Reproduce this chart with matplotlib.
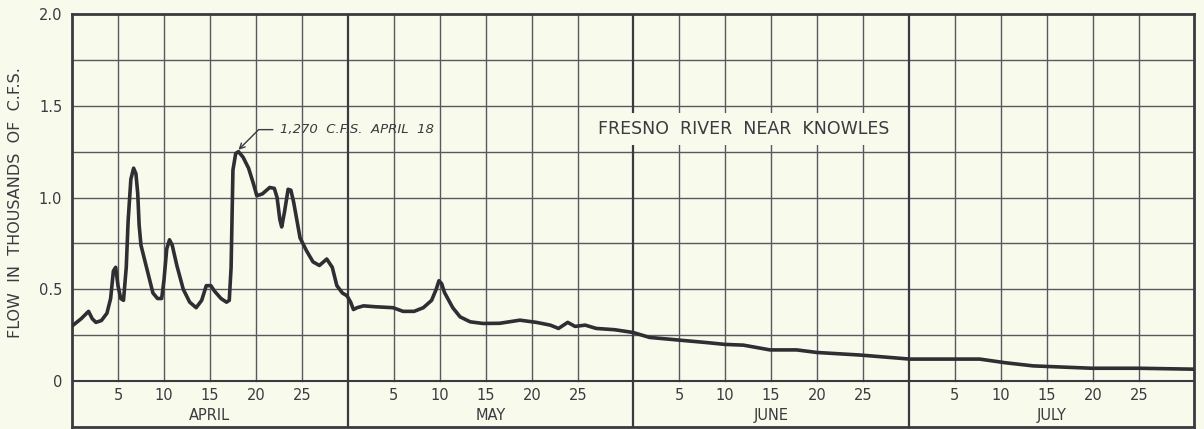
import matplotlib.pyplot as plt
import numpy as np

# days counted from March 31 (so April 18 -> 18), values in thousands of c.f.s.
days = [0, 1.0, 1.8, 2.2, 2.6, 3.2, 3.8, 4.2, 4.5, 4.75, 5.0, 5.3, 5.6, 5.9, 6.1, 6.4,
        6.7, 6.95, 7.15, 7.3, 7.5, 8.1, 8.8, 9.3, 9.75, 10.0, 10.3, 10.6, 10.9, 11.4,
        12.1, 12.8, 13.5, 14.1, 14.6, 15.1, 15.5, 16.2, 16.8, 17.1, 17.3, 17.5, 17.8,
        18.1, 18.6, 19.2, 19.7, 20.1, 20.7, 21.5, 22.0, 22.3, 22.6, 22.8, 23.1, 23.5,
        23.8, 24.1, 24.8, 25.5, 26.2, 26.9, 27.7, 28.3, 28.8, 29.4, 29.9, 30.3, 30.6,
        31.0, 31.7, 33.0, 34.9, 36.0, 37.2, 38.2, 39.1, 39.6, 39.9, 40.2, 40.5, 41.4,
        42.2, 43.3, 44.7, 46.5, 48.7, 50.5, 52.0, 52.9, 53.9, 54.7, 55.8, 57.0, 59.0,
        61.0, 62.8, 66.1, 69.0, 71.0, 73.0, 75.9, 78.8, 81.0, 85.7, 91.1, 98.7, 101.5,
        104.5, 110.9, 116.0, 122.0]
flow = [0.30, 0.34, 0.38, 0.34, 0.32, 0.33, 0.37, 0.45, 0.60, 0.62, 0.52, 0.45, 0.44,
        0.62, 0.87, 1.10, 1.16, 1.13, 1.02, 0.85, 0.74, 0.62, 0.48, 0.45, 0.45, 0.55,
        0.72, 0.77, 0.74, 0.63, 0.50, 0.43, 0.40, 0.44, 0.52, 0.52, 0.49, 0.45, 0.43,
        0.44, 0.62, 1.15, 1.24, 1.25, 1.22, 1.16, 1.08, 1.01, 1.02, 1.055, 1.05, 1.00,
        0.88, 0.84, 0.92, 1.045, 1.04, 0.975, 0.78, 0.71, 0.65, 0.63, 0.665, 0.62, 0.52,
        0.48, 0.465, 0.43, 0.39, 0.40, 0.41, 0.405, 0.40, 0.38, 0.38, 0.40, 0.44, 0.50,
        0.547, 0.53, 0.483, 0.40, 0.35, 0.323, 0.314, 0.315, 0.332, 0.32, 0.305, 0.287,
        0.32, 0.298, 0.305, 0.287, 0.28, 0.265, 0.238, 0.223, 0.21, 0.20, 0.196, 0.17,
        0.17, 0.156, 0.142, 0.12, 0.12, 0.10, 0.083, 0.07, 0.07, 0.065]

months = ["APRIL", "MAY", "JUNE", "JULY"]
month_len = [30, 31, 30, 31]
day_ticks = [5, 10, 15, 20, 25]
y_ticks = [0, 0.5, 1.0, 1.5, 2.0]
y_tick_labels = ["0", "0.5", "1.0", "1.5", "2.0"]

BG = "#f8faec"
INK = "#3a3a40"
GRID = "#58585e"

plt.rcParams['font.family'] = ['DejaVu Sans']

fig = plt.figure(figsize=(12.04, 4.29), dpi=100, facecolor=BG)
ax = fig.add_axes([72 / 1204, 2 / 429, 1122 / 1204, 413 / 429])
ax.set_facecolor(BG)

starts = np.concatenate([[0], np.cumsum(month_len)])
ax.set_xlim(0, starts[-1])
ax.set_ylim(-0.25, 2.0)

# horizontal grid
for yv in np.arange(0.25, 2.0, 0.25):
    ax.axhline(yv, color=GRID, lw=1.0, zorder=1)
ax.axhline(0, color=INK, lw=1.5, zorder=2)

# vertical grid, day labels and month labels
for i, m in enumerate(months):
    s = starts[i]
    for d in day_ticks:
        ax.plot([s + d, s + d], [0, 2.0], color=GRID, lw=1.0, zorder=1)
        ax.text(s + d, -0.08, str(d), ha='center', va='center', fontsize=10.5, color=INK)
    ax.text(s + month_len[i] / 2, -0.185, m, ha='center', va='center', fontsize=10.5, color=INK)
    if i > 0:
        ax.axvline(s, color=INK, lw=1.6, zorder=2)

ax.plot(days, flow, color="#2e2e33", lw=2.6, solid_capstyle='round',
        solid_joinstyle='round', zorder=4)

ax.text(starts[1] + 25 + (month_len[2] + 6) / 2, 1.373, "FRESNO  RIVER  NEAR  KNOWLES",
        ha='center', va='center', fontsize=12.5, color=INK, zorder=3,
        bbox=dict(boxstyle='square,pad=0.4', fc=BG, ec='none'))

ax.annotate("1,270  C.F.S.  APRIL  18", xy=(18.1, 1.26), xytext=(22.6, 1.37),
            textcoords='data', ha='left', va='center', fontsize=9.5, style='italic',
            color=INK, zorder=5,
            arrowprops=dict(arrowstyle='->', color=INK, lw=1.0,
                            connectionstyle='angle,angleA=0,angleB=45,rad=0',
                            shrinkA=3, shrinkB=0))

ax.set_xticks([])
ax.set_yticks(y_ticks)
ax.set_yticklabels(y_tick_labels, fontsize=10.5, color=INK)
ax.tick_params(axis='y', length=0, pad=7)
for sp in ax.spines.values():
    sp.set_color(INK)
    sp.set_linewidth(2.0)

fig.text(0.0125, 0.527, "FLOW  IN  THOUSANDS  OF  C.F.S.", rotation=90,
         ha='center', va='center', fontsize=11.5, color=INK)

fig.savefig("out.png", dpi=100, facecolor=BG)
